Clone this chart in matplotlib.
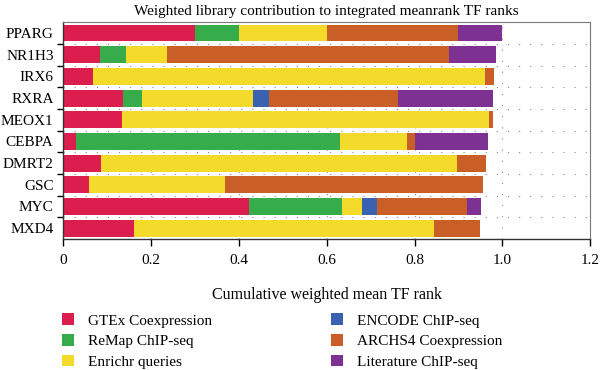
import numpy as np
import matplotlib
matplotlib.use("Agg")
import matplotlib.pyplot as plt
from matplotlib.patches import Patch

plt.rcParams['font.family'] = ['Liberation Serif', 'DejaVu Serif']

tfs = ["PPARG", "NR1H3", "IRX6", "RXRA", "MEOX1", "CEBPA", "DMRT2", "GSC", "MYC", "MXD4"]
libraries = ["GTEx Coexpression", "ReMap ChIP-seq", "Enrichr queries",
             "ENCODE ChIP-seq", "ARCHS4 Coexpression", "Literature ChIP-seq"]
colors = ["#DC1E4F", "#36AD4A", "#F4DA2A", "#3B62B1", "#C95F27", "#7D3293"]

# contribution of each library, one list per library, in the order of tfs
gtex     = [0.299, 0.084, 0.067, 0.137, 0.134, 0.028, 0.086, 0.058, 0.423, 0.160]
remap    = [0.101, 0.058, 0.000, 0.042, 0.000, 0.602, 0.000, 0.000, 0.211, 0.000]
enrichr  = [0.201, 0.094, 0.893, 0.253, 0.835, 0.154, 0.811, 0.311, 0.047, 0.684]
encode   = [0.000, 0.000, 0.000, 0.036, 0.000, 0.000, 0.000, 0.000, 0.034, 0.000]
archs4   = [0.299, 0.642, 0.022, 0.294, 0.010, 0.018, 0.065, 0.586, 0.204, 0.106]
literature = [0.100, 0.107, 0.000, 0.217, 0.000, 0.165, 0.000, 0.000, 0.033, 0.000]
series = [gtex, remap, enrichr, encode, archs4, literature]

fig = plt.figure(figsize=(6, 3.7), dpi=100)
ax = fig.add_axes([0.1055, 0.354, 0.878, 0.586])

y = np.arange(len(tfs))
left = np.zeros(len(tfs))
for vals, col in zip(series, colors):
    vals = np.array(vals)
    ax.barh(y, vals, left=left, height=0.78, color=col, zorder=2)
    left += vals

ax.set_xlim(0, 1.2)
ax.set_ylim(len(tfs) - 0.5, -0.5)
ax.set_xticks([0, 0.2, 0.4, 0.6, 0.8, 1.0, 1.2])
ax.set_xticklabels(["0", "0.2", "0.4", "0.6", "0.8", "1.0", "1.2"], fontsize=11)
ax.set_yticks(y)
ax.set_yticklabels(tfs, fontsize=11)
ax.set_yticks(np.arange(0.5, len(tfs) - 1, 1), minor=True)
ax.tick_params(axis="y", which="major", length=0, pad=7)
ax.tick_params(axis="y", which="minor", length=4, width=1, direction="out")
ax.tick_params(axis="x", length=5, width=1, direction="out", pad=6)

ax.grid(axis="x", which="major", color="#888888", linestyle=(0, (1, 9)), linewidth=0.8, zorder=0)
ax.grid(axis="y", which="minor", color="#888888", linestyle=(0, (1, 9)), linewidth=0.8, zorder=0)
ax.set_axisbelow(True)

for s in ["top", "right"]:
    ax.spines[s].set_color("#777777")
    ax.spines[s].set_linewidth(0.8)
for s in ["left", "bottom"]:
    ax.spines[s].set_color("#333333")
    ax.spines[s].set_linewidth(1.0)

ax.set_title("Weighted library contribution to integrated meanrank TF ranks", fontsize=11, pad=5)
ax.set_xlabel("Cumulative weighted mean TF rank", fontsize=11.5, labelpad=14)

handles = [Patch(facecolor=c, edgecolor="none") for c in colors]
fig.legend(handles, libraries,
           ncol=2, loc="upper left", bbox_to_anchor=(0.103, 0.153),
           frameon=False, fontsize=11, handlelength=0.8, handleheight=0.8,
           handletextpad=0.9, columnspacing=7.8, labelspacing=0.42,
           borderaxespad=0, borderpad=0)

fig.savefig("out.png", dpi=100)
